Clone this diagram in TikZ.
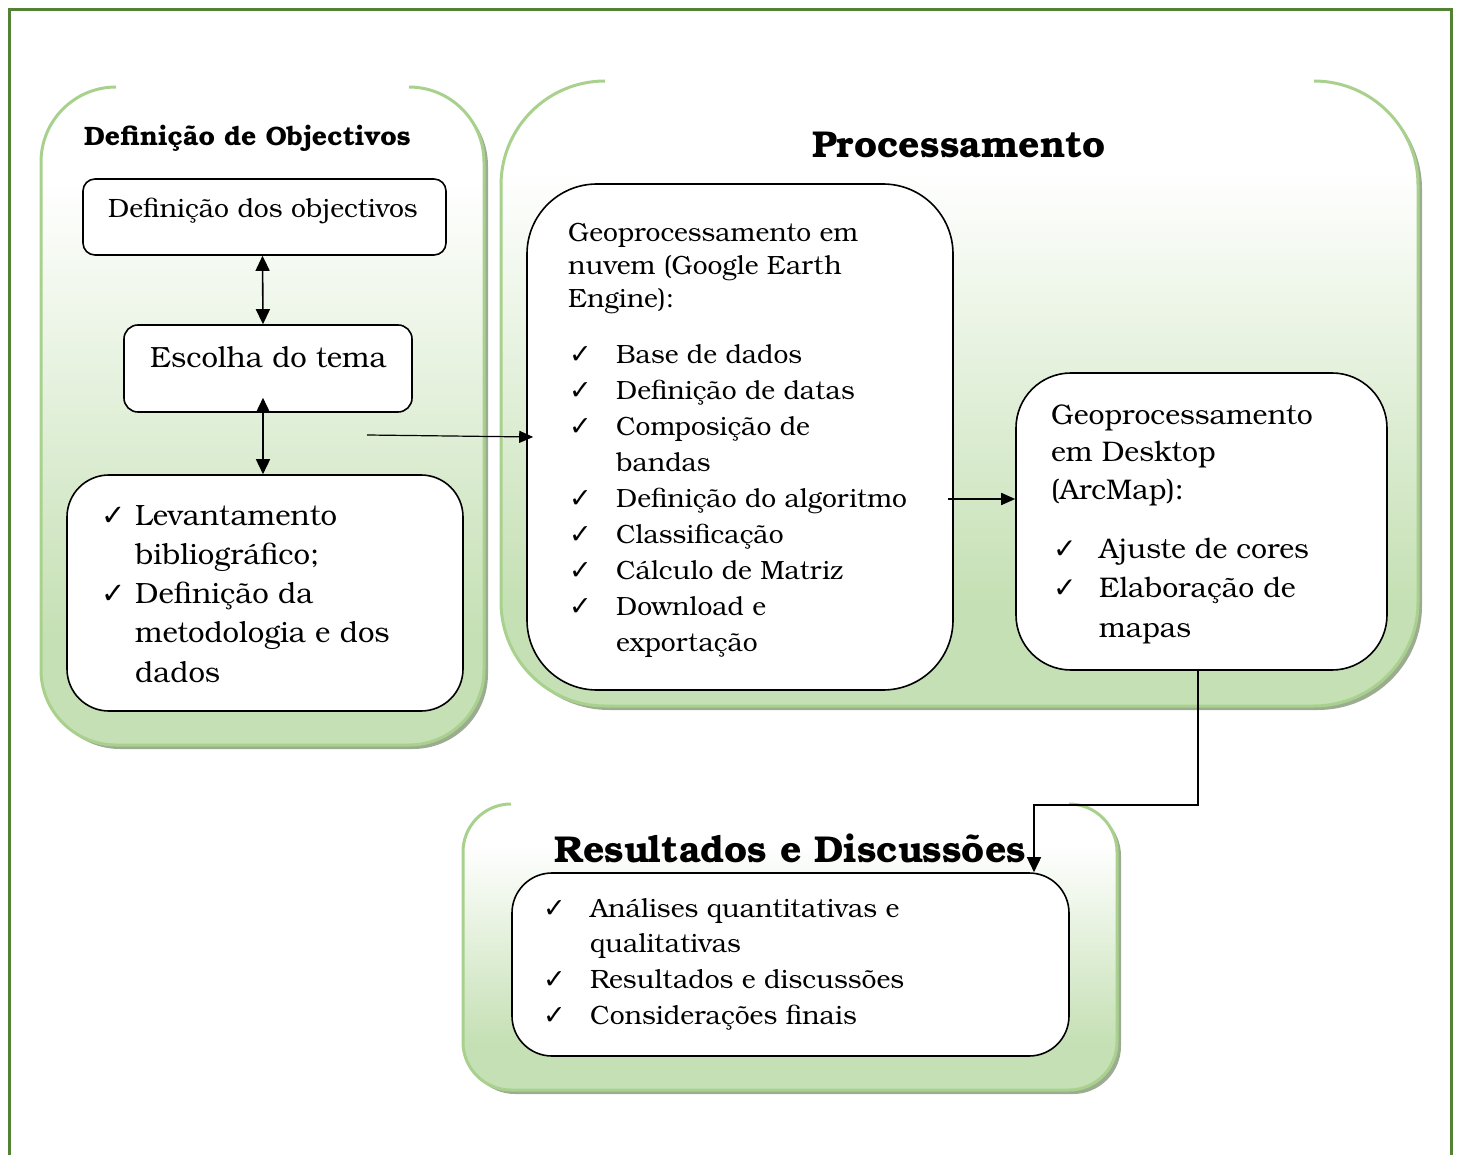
\documentclass[tikz,border=0pt]{standalone}
\usepackage{fontspec}
\setmainfont{TeX Gyre Bonum}
\newfontfamily\ckfont{DejaVu Sans}
\usetikzlibrary{arrows.meta}
\definecolor{outerg}{HTML}{548235}
\definecolor{pborder}{HTML}{A9D18E}
\definecolor{pfill}{HTML}{C5E0B4}
\definecolor{pshadow}{HTML}{9CAC90}
\pgfdeclareverticalshading{panelshade}{100bp}{color(0bp)=(pfill); color(33bp)=(pfill); color(68bp)=(white); color(100bp)=(white)}
\newcommand\ck[1]{{\ckfont\fontsize{#1}{#1}\selectfont ✓}}
\newcommand\panel[5]{%
  \fill[pshadow, rounded corners=#5pt] (#1+4,#2+4) rectangle (#3+4,#4+4);
  \shade[shading=panelshade, rounded corners=#5pt] (#1,#2) rectangle (#3,#4);
  \draw[pborder, line width=3pt, rounded corners=#5pt] (#1+#5,#2) -- (#1,#2) -- (#1,#4) -- (#3,#4) -- (#3,#2) -- (#3-#5,#2);
}
\tikzset{
  ibox/.style={draw=black, line width=1.6pt, fill=white, inner sep=0pt},
  lbl/.style={anchor=base west, inner sep=0pt},
  arr/.style={line width=1.6pt, -{Triangle[length=15pt,width=14pt]}},
  darr/.style={line width=1.6pt, {Triangle[length=15pt,width=14pt]}-{Triangle[length=15pt,width=14pt]}},
}
\begin{document}
\begin{tikzpicture}[x=1pt,y=-1pt]
\useasboundingbox (0,0) rectangle (1457,1155);
% outer frame
\draw[outerg, line width=3pt] (9,1160) -- (9,10) -- (1451,10) -- (1451,1160);
% panels
\panel{41}{87}{484}{745}{75}
\panel{501}{81}{1418}{706}{104}
\panel{463}{804}{1117}{1090}{48}
% inner boxes
\node[ibox, rounded corners=12pt, minimum width=363pt, minimum height=76pt] (b1) at (264.5,217) {};
\node[ibox, rounded corners=14pt, minimum width=288pt, minimum height=87pt] (b2) at (268,368.5) {};
\node[ibox, rounded corners=42pt, minimum width=396pt, minimum height=236pt] (b3) at (265,593) {};
\node[ibox, rounded corners=70pt, minimum width=426pt, minimum height=506pt] (gee) at (740,437) {};
\node[ibox, rounded corners=55pt, minimum width=371pt, minimum height=297pt] (desk) at (1201.5,521.5) {};
\node[ibox, rounded corners=40pt, minimum width=557pt, minimum height=183pt] (rbox) at (790.5,964.5) {};
% titles
\node[lbl, font=\bfseries\fontsize{26.6}{26.6}\selectfont] (t1) at (84,146) {Definição de Objectivos};
\node[lbl, font=\bfseries\fontsize{37.4}{37.4}\selectfont] (t2) at (812,158) {Processamento};
\node[lbl, font=\bfseries\fontsize{37.4}{37.4}\selectfont] (t3) at (554,862) {Resultados e Discussões};
% texts
\node[lbl, font=\fontsize{26.5}{26.5}\selectfont] (b1t) at (108,218) {Definição dos objectivos};
\node[lbl, font=\fontsize{29.2}{29.2}\selectfont] (b2t) at (150,368) {Escolha do tema};
\node[lbl, font=\fontsize{29.3}{39.3}\selectfont] (b3t) at (101,525) {\begin{tabular}[t]{@{}l@{}l@{}}
\makebox[34pt][l]{\ck{29}} & Levantamento\\
 & bibliográfico;\\
\makebox[34pt][l]{\ck{29}} & Definição da\\
 & metodologia e dos\\
 & dados
\end{tabular}};
\node[lbl, font=\fontsize{26.4}{33}\selectfont] (geeh) at (568,242) {\begin{tabular}[t]{@{}l@{}}
Geoprocessamento em\\ nuvem (Google Earth\\ Engine):
\end{tabular}};
\node[lbl, font=\fontsize{26.4}{36}\selectfont] (geel) at (569,364) {\begin{tabular}[t]{@{}l@{}l@{}}
\makebox[47pt][l]{\ck{27}} & Base de dados\\
\makebox[47pt][l]{\ck{27}} & Definição de datas\\
\makebox[47pt][l]{\ck{27}} & Composição de\\
 & bandas\\
\makebox[47pt][l]{\ck{27}} & Definição do algoritmo\\
\makebox[47pt][l]{\ck{27}} & Classificação\\
\makebox[47pt][l]{\ck{27}} & Cálculo de Matriz\\
\makebox[47pt][l]{\ck{27}} & Download e\\
 & exportação
\end{tabular}};
\node[lbl, font=\fontsize{28.4}{37}\selectfont] (deskh) at (1051,425) {\begin{tabular}[t]{@{}l@{}}
Geoprocessamento\\ em Desktop\\ (ArcMap):
\end{tabular}};
\node[lbl, font=\fontsize{28.4}{39.5}\selectfont] (deskl) at (1053,558) {\begin{tabular}[t]{@{}l@{}l@{}}
\makebox[46pt][l]{\ck{28}} & Ajuste de cores\\
\makebox[46pt][l]{\ck{28}} & Elaboração de\\
 & mapas
\end{tabular}};
\node[lbl, font=\fontsize{26.5}{35.7}\selectfont] (rboxl) at (543,917) {\begin{tabular}[t]{@{}l@{}l@{}}
\makebox[47pt][l]{\ck{27}} & Análises quantitativas e\\
 & qualitativas\\
\makebox[47pt][l]{\ck{27}} & Resultados e discussões\\
\makebox[47pt][l]{\ck{27}} & Considerações finais
\end{tabular}};
% connectors
\draw[darr] ([xshift=-2pt]b1.south) -- ([xshift=-5pt]b2.north);
\draw[darr] ([xshift=-5pt,yshift=15pt]b2.south) -- ([xshift=-2pt]b3.north);
\coordinate (s3) at (367,435);
\draw[line width=1.2pt, -{Triangle[length=14pt,width=12pt]}] (s3) -- ([xshift=7pt]gee.west);
\coordinate (s4) at ([xshift=-6pt,yshift=-62pt]gee.east);
\draw[line width=1.6pt, -{Triangle[length=14pt,width=12pt]}] (s4) -- (s4 -| desk.west);
\draw[arr] ([xshift=-3.5pt]desk.south) -- ++(0,134) -| ([xshift=243.5pt]rbox.north);
\end{tikzpicture}
\end{document}
